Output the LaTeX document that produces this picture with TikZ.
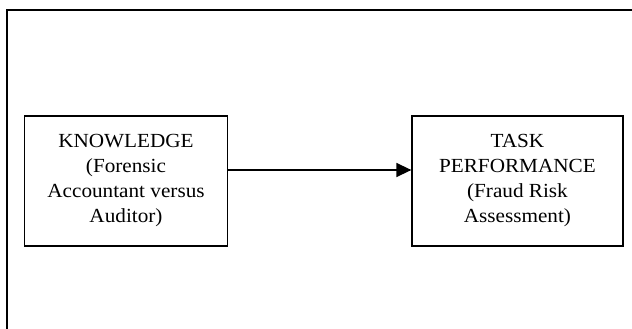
\documentclass[tikz,border=0pt]{standalone}
\usepackage{fontspec}
\setmainfont[FakeStretch=1.06]{Liberation Serif}
\usetikzlibrary{positioning,arrows.meta}
\tikzset{main node/.style={rectangle,draw,line width=1.2pt,align=center,inner sep=0pt,
            minimum height=130pt,font=\fontsize{20}{25}\selectfont},
            }

\begin{document}
\begin{tikzpicture}[x=1pt,y=1pt]
    \useasboundingbox (0,0) rectangle (632,-329);
    % outer frame, open at right and bottom
    \coordinate (fb) at (7,-329);
    \coordinate (ft) at (7,-10);
    \coordinate (fr) at (632,-10);
    \draw[line width=1.2pt] (fb) -- (ft) -- (fr);

    \node[main node,minimum width=203.5pt] (know) at (126,-181)
      {KNOWLEDGE\\(Forensic\\Accountant versus\\Auditor)};
    \node[main node,minimum width=211pt] (task) [right = 183pt of know]
      {TASK\\PERFORMANCE\\(Fraud Risk\\Assessment)};

    \draw[line width=1.5pt,-{Triangle[length=15pt,width=14pt]}]
      ([yshift=11pt]know.east) -- ([yshift=11pt]task.west);
\end{tikzpicture}
\end{document}
